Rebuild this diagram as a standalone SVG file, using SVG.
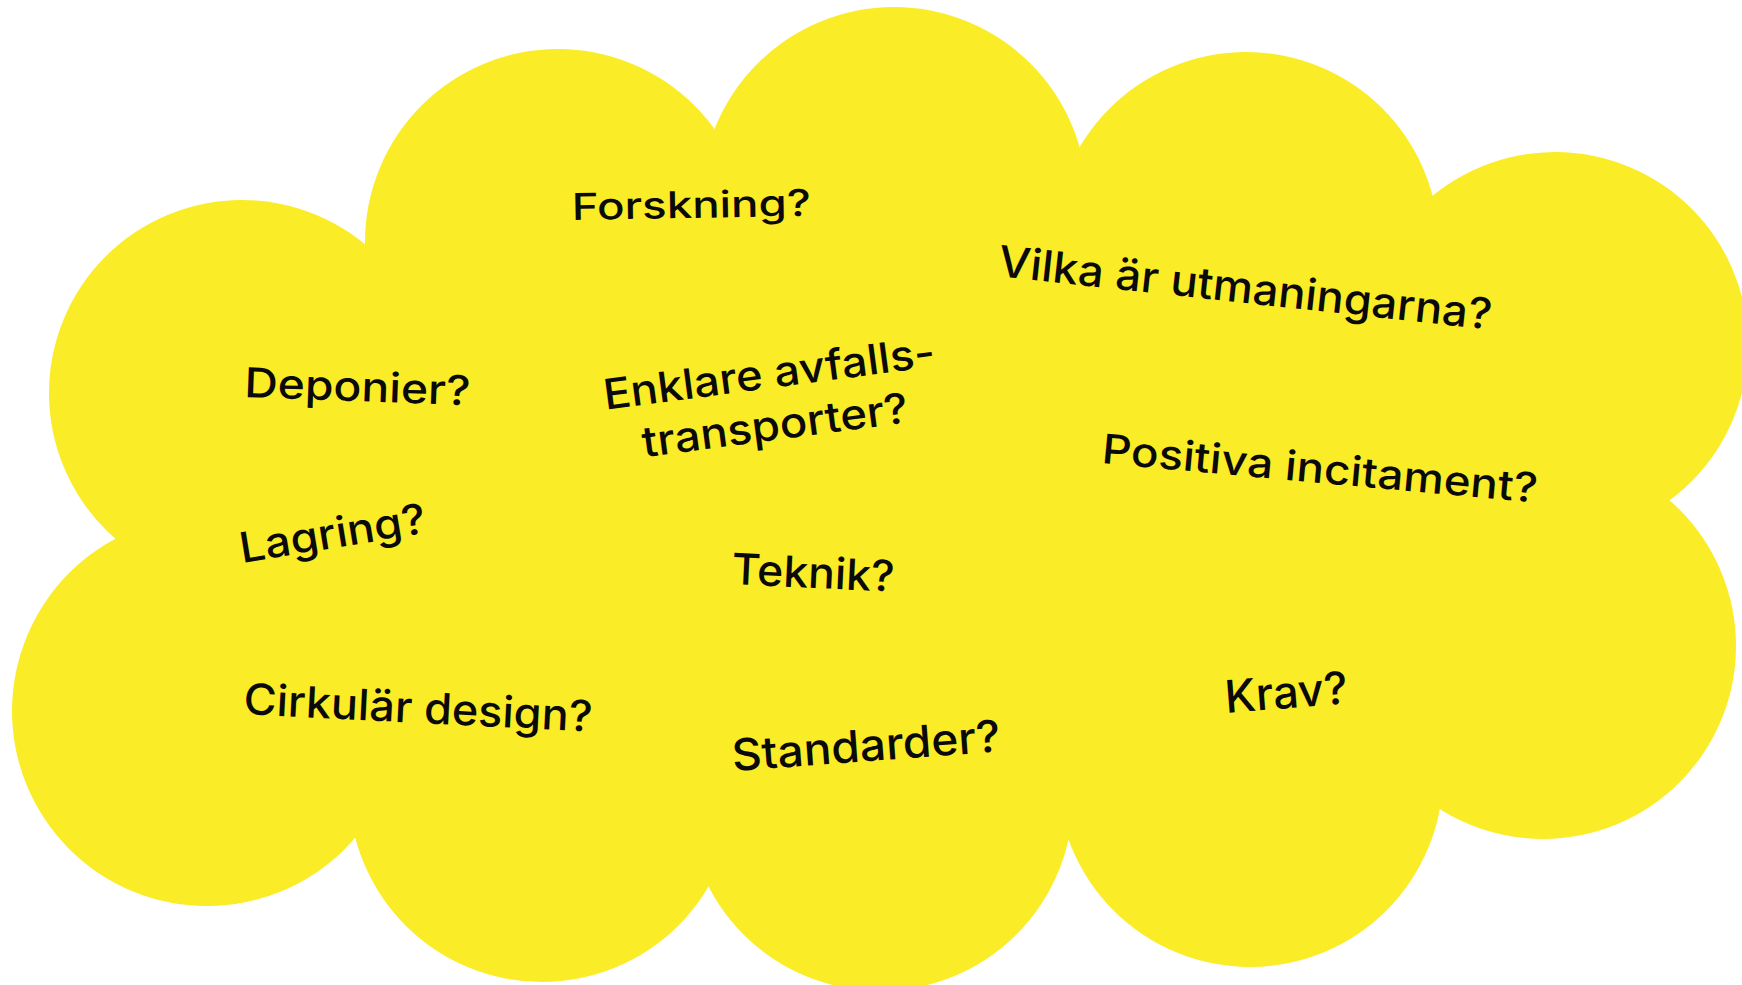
<svg xmlns="http://www.w3.org/2000/svg" width="1742" height="985" viewBox="0 0 1742 985">
<style>
.c{fill:#FAEC26}
.t{font-family:Inter,"Noto Sans",sans-serif;font-weight:500;fill:#0a0a0a}
</style>
<rect width="1742" height="985" fill="#ffffff"/>
<g id="cloud" class="c">
<circle cx="242" cy="393" r="193"/>
<circle cx="558" cy="242" r="193"/>
<circle cx="894" cy="200" r="193"/>
<circle cx="1246" cy="245" r="193"/>
<circle cx="1555" cy="345" r="193"/>
<circle cx="1543" cy="646" r="193"/>
<circle cx="1250" cy="774" r="193"/>
<circle cx="880" cy="798" r="193"/>
<circle cx="542" cy="789" r="193"/>
<circle cx="207" cy="711" r="195"/>
<polygon points="242,393 558,242 894,200 1246,245 1555,345 1543,646 1250,774 880,798 542,789 207,711"/>
</g>
<g id="forskning" transform="translate(572,220) rotate(-1)"><text class="t" font-size="37" textLength="239" lengthAdjust="spacingAndGlyphs">Forskning?</text></g>
<g id="deponier" transform="translate(244,397) rotate(2.1)"><text class="t" font-size="41" textLength="226" lengthAdjust="spacingAndGlyphs">Deponier?</text></g>
<g id="lagring" transform="translate(242,563) rotate(-9.3)"><text class="t" font-size="42" textLength="188" lengthAdjust="spacingAndGlyphs">Lagring?</text></g>
<g id="enklare" transform="translate(771,388) rotate(-7.5)"><text class="t" font-size="42" text-anchor="middle"><tspan x="0" y="0" textLength="334" lengthAdjust="spacingAndGlyphs">Enklare avfalls-</tspan><tspan x="-1" y="52" textLength="268" lengthAdjust="spacingAndGlyphs">transporter?</tspan></text></g>
<g id="teknik" transform="translate(731,584) rotate(2.7)"><text class="t" font-size="43" textLength="163" lengthAdjust="spacingAndGlyphs">Teknik?</text></g>
<g id="standarder" transform="translate(733,771) rotate(-4.2)"><text class="t" font-size="44" textLength="269" lengthAdjust="spacingAndGlyphs">Standarder?</text></g>
<g id="cirkular" transform="translate(243,714) rotate(2.9)"><text class="t" font-size="43" textLength="349" lengthAdjust="spacingAndGlyphs">Cirkulär design?</text></g>
<g id="vilka" transform="translate(997,276) rotate(6.2)"><text class="t" font-size="43" textLength="496" lengthAdjust="spacingAndGlyphs">Vilka är utmaningarna?</text></g>
<g id="positiva" transform="translate(1101,463) rotate(5.2)"><text class="t" font-size="41" textLength="437" lengthAdjust="spacingAndGlyphs">Positiva incitament?</text></g>
<g id="krav" transform="translate(1226,713) rotate(-4.5)"><text class="t" font-size="45" textLength="123" lengthAdjust="spacingAndGlyphs">Krav?</text></g>
</svg>
